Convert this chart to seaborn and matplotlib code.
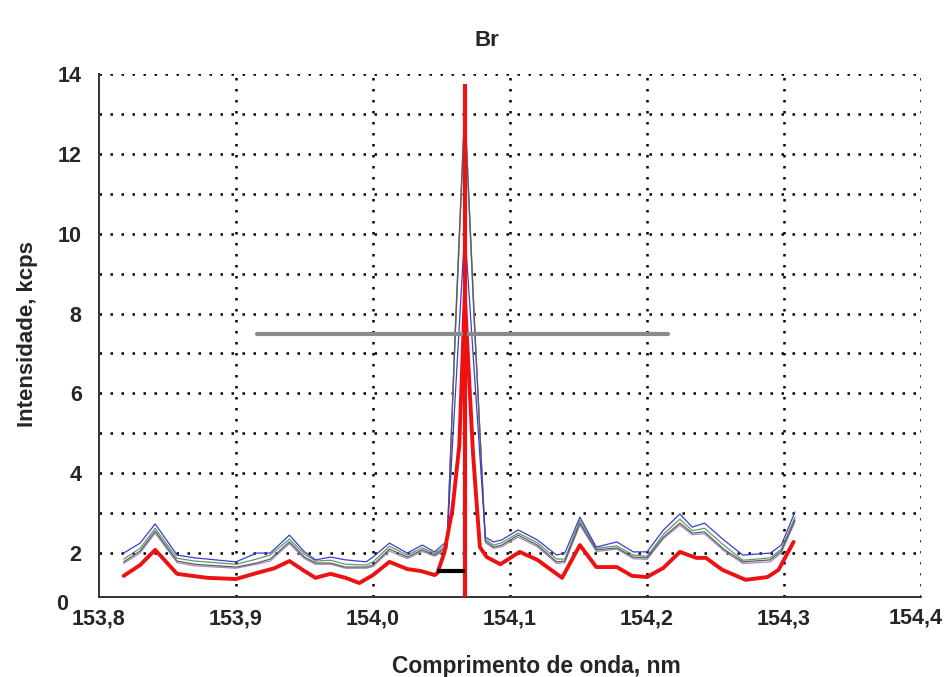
import numpy as np
import pandas as pd
import matplotlib
matplotlib.use('Agg')
import matplotlib.pyplot as plt
from matplotlib.ticker import FixedLocator, FuncFormatter
import seaborn as sns

# --- dados (nm, kcps) ---
# espectros finos (varreduras repetidas)
x_thin = [153.818, 153.830, 153.841, 153.857, 153.870, 153.900, 153.915, 153.925,
          153.939, 153.950, 153.958, 153.969, 153.980, 153.995, 154.000, 154.012,
          154.025, 154.036, 154.045, 154.054, 154.060, 154.067, 154.074, 154.082,
          154.088, 154.094, 154.106, 154.120, 154.134, 154.140, 154.151, 154.163,
          154.178, 154.190, 154.200, 154.212, 154.224, 154.233, 154.242, 154.256,
          154.270, 154.290, 154.298, 154.308]
blue = [2.00, 2.25, 2.73, 1.95, 1.88, 1.78, 2.00, 2.00, 2.45, 2.03, 1.83, 1.90,
        1.83, 1.78, 1.90, 2.25, 2.00, 2.20, 2.03, 2.30, 5.90, 10.10, 6.50, 2.40,
        2.28, 2.33, 2.58, 2.33, 1.95, 2.00, 2.90, 2.15, 2.28, 2.03, 2.03, 2.58,
        2.98, 2.65, 2.75, 2.33, 1.95, 2.00, 2.20, 3.03]
green = [1.85, 2.12, 2.62, 1.87, 1.80, 1.72, 1.85, 1.95, 2.35, 1.97, 1.80, 1.82,
         1.72, 1.70, 1.78, 2.17, 1.95, 2.13, 1.99, 2.20, 7.40, 13.00, 7.70, 2.35,
         2.20, 2.26, 2.50, 2.26, 1.85, 1.85, 2.82, 2.12, 2.18, 1.95, 1.92, 2.47,
         2.85, 2.56, 2.62, 2.20, 1.82, 1.88, 2.10, 2.90]
grey = [1.78, 2.05, 2.55, 1.80, 1.72, 1.65, 1.75, 1.85, 2.28, 1.90, 1.75, 1.75,
        1.65, 1.65, 1.70, 2.10, 1.90, 2.08, 1.95, 2.15, 7.50, 13.20, 7.80, 2.30,
        2.15, 2.20, 2.45, 2.20, 1.78, 1.80, 2.75, 2.08, 2.13, 1.90, 1.88, 2.40,
        2.75, 2.50, 2.53, 2.10, 1.78, 1.83, 2.05, 2.83]
purple = [1.74, 2.00, 2.50, 1.76, 1.68, 1.62, 1.72, 1.80, 2.24, 1.86, 1.72, 1.72,
          1.62, 1.62, 1.66, 2.05, 1.86, 2.04, 1.92, 2.10, 7.60, 13.20, 7.90, 2.26,
          2.12, 2.16, 2.40, 2.16, 1.74, 1.76, 2.70, 2.04, 2.10, 1.86, 1.84, 2.36,
          2.70, 2.46, 2.48, 2.06, 1.74, 1.78, 2.00, 2.78]

# espectro vermelho (grosso)
x_red = [153.818, 153.830, 153.841, 153.857, 153.879, 153.900, 153.915, 153.928,
         153.939, 153.950, 153.958, 153.969, 153.980, 153.990, 154.000, 154.012,
         154.025, 154.035, 154.045, 154.047, 154.052, 154.058, 154.063, 154.067,
         154.073, 154.078, 154.083, 154.093, 154.107, 154.120, 154.138, 154.151,
         154.163, 154.178, 154.189, 154.200, 154.212, 154.224, 154.236, 154.243,
         154.255, 154.272, 154.288, 154.296, 154.307]
red = [1.43, 1.70, 2.08, 1.48, 1.38, 1.35, 1.50, 1.62, 1.80, 1.55, 1.38, 1.48,
       1.38, 1.25, 1.45, 1.78, 1.60, 1.55, 1.45, 1.50, 2.00, 3.10, 4.70, 8.45,
       4.50, 2.15, 1.90, 1.72, 2.03, 1.83, 1.38, 2.20, 1.65, 1.65, 1.43, 1.40,
       1.63, 2.03, 1.88, 1.88, 1.58, 1.33, 1.40, 1.58, 2.28]

PEAK_NM = 154.067        # posição da linha do Br
PEAK_TOP = 13.75
HALF_LEVEL = 7.5         # linha cinza horizontal
HALF_FROM, HALF_TO = 153.915, 154.215
BG_LEVEL = 1.55          # segmento preto (fundo)
BG_FROM = 154.047

Y_MIN, Y_MAX = 0.9, 14.0
X_MIN, X_MAX = 153.8, 154.4

df_thin = pd.DataFrame({'nm': x_thin, 'azul': blue, 'verde': green,
                        'cinza': grey, 'roxo': purple})
df_red = pd.DataFrame({'nm': x_red, 'kcps': red})

sns.set_theme(style='white')
plt.rcParams['font.family'] = ['Liberation Sans', 'DejaVu Sans']
plt.rcParams['font.weight'] = 'bold'

fig = plt.figure(figsize=(9.46, 6.77), dpi=100)
ax = fig.add_axes([99 / 946, 1 - 597 / 677, (921 - 99) / 946, (597 - 74) / 677])

# grade pontilhada
dots = (0, (1, 3.4))
for yv in range(2, 15):
    ax.axhline(yv, color='black', lw=1.8, linestyle=dots, zorder=0.5)
for xv in np.arange(153.9, 154.41, 0.1):
    ax.axvline(xv, color='black', lw=1.8, linestyle=dots, zorder=0.5)

# espectros finos (verde por baixo, envoltório cinza/roxo por cima)
for col, color in [('verde', '#5f9c5f'), ('roxo', '#a58ac8'),
                   ('cinza', '#5c5c5c'), ('azul', '#3c3cd6')]:
    sns.lineplot(data=df_thin, x='nm', y=col, ax=ax, color=color, lw=0.9,
                 estimator=None, sort=True, zorder=2)

sns.lineplot(data=df_red, x='nm', y='kcps', ax=ax, color='#ee1111', lw=2.8,
             estimator=None, zorder=3)

ax.plot([HALF_FROM, HALF_TO], [HALF_LEVEL, HALF_LEVEL], color='#8a8a8a', lw=3, zorder=4)
ax.plot([PEAK_NM, PEAK_NM], [Y_MIN, PEAK_TOP], color='#ee1111', lw=3, zorder=4,
        solid_capstyle='butt')
ax.plot([BG_FROM, PEAK_NM], [BG_LEVEL, BG_LEVEL], color='black', lw=3, zorder=4,
        solid_capstyle='butt')

ax.set_xlim(X_MIN, X_MAX)
ax.set_ylim(Y_MIN, Y_MAX)

# eixos e marcas
def x_fmt(v, p):
    # o último rótulo (154,4) é posto à mão, um pouco para dentro da figura
    if v > 154.35:
        return ''
    return f'{v:.1f}'.replace('.', ',')

ax.xaxis.set_major_locator(FixedLocator(np.round(np.arange(153.8, 154.41, 0.1), 2)))
ax.xaxis.set_minor_locator(FixedLocator(np.round(np.arange(153.85, 154.4, 0.1), 2)))
ax.xaxis.set_major_formatter(FuncFormatter(x_fmt))
ax.yaxis.set_major_locator(FixedLocator(list(range(1, 15))))
ax.yaxis.set_minor_locator(FixedLocator(np.arange(1.5, 14, 1.0)))
ax.yaxis.set_major_formatter(FuncFormatter(lambda v, p: f'{int(v)}' if v % 2 == 0 else ''))

for side in ['top', 'right']:
    ax.spines[side].set_visible(False)
for side in ['left', 'bottom']:
    ax.spines[side].set_color('#333333')
    ax.spines[side].set_linewidth(1.4)

ax.tick_params(axis='both', which='both', direction='inout', length=9, width=1.2,
               color='#333333', labelsize=15.5)
ax.tick_params(axis='x', pad=4)
ax.tick_params(axis='y', pad=8)
ax.set_xlabel('')
ax.set_ylabel('')

fig.text(916 / 946, 1 - 618 / 677, '154,4', ha='center', va='center', fontsize=15.5,
         fontweight='bold', color='#262626')
fig.text(487 / 946, 1 - 40 / 677, 'Br', ha='center', va='center', fontsize=16, fontweight='bold')
fig.text(536 / 946, 1 - 666 / 677, 'Comprimento de onda, nm', ha='center', va='center',
         fontsize=16.5, fontweight='bold')
fig.text(27 / 946, 1 - 334 / 677, 'Intensidade, kcps', ha='center', va='center',
         rotation=90, fontsize=16, fontweight='bold')
fig.text(62 / 946, 1 - 604 / 677, '0', ha='center', va='center', fontsize=15.5,
         fontweight='bold', color='#262626')

fig.savefig('out.png', dpi=100)
